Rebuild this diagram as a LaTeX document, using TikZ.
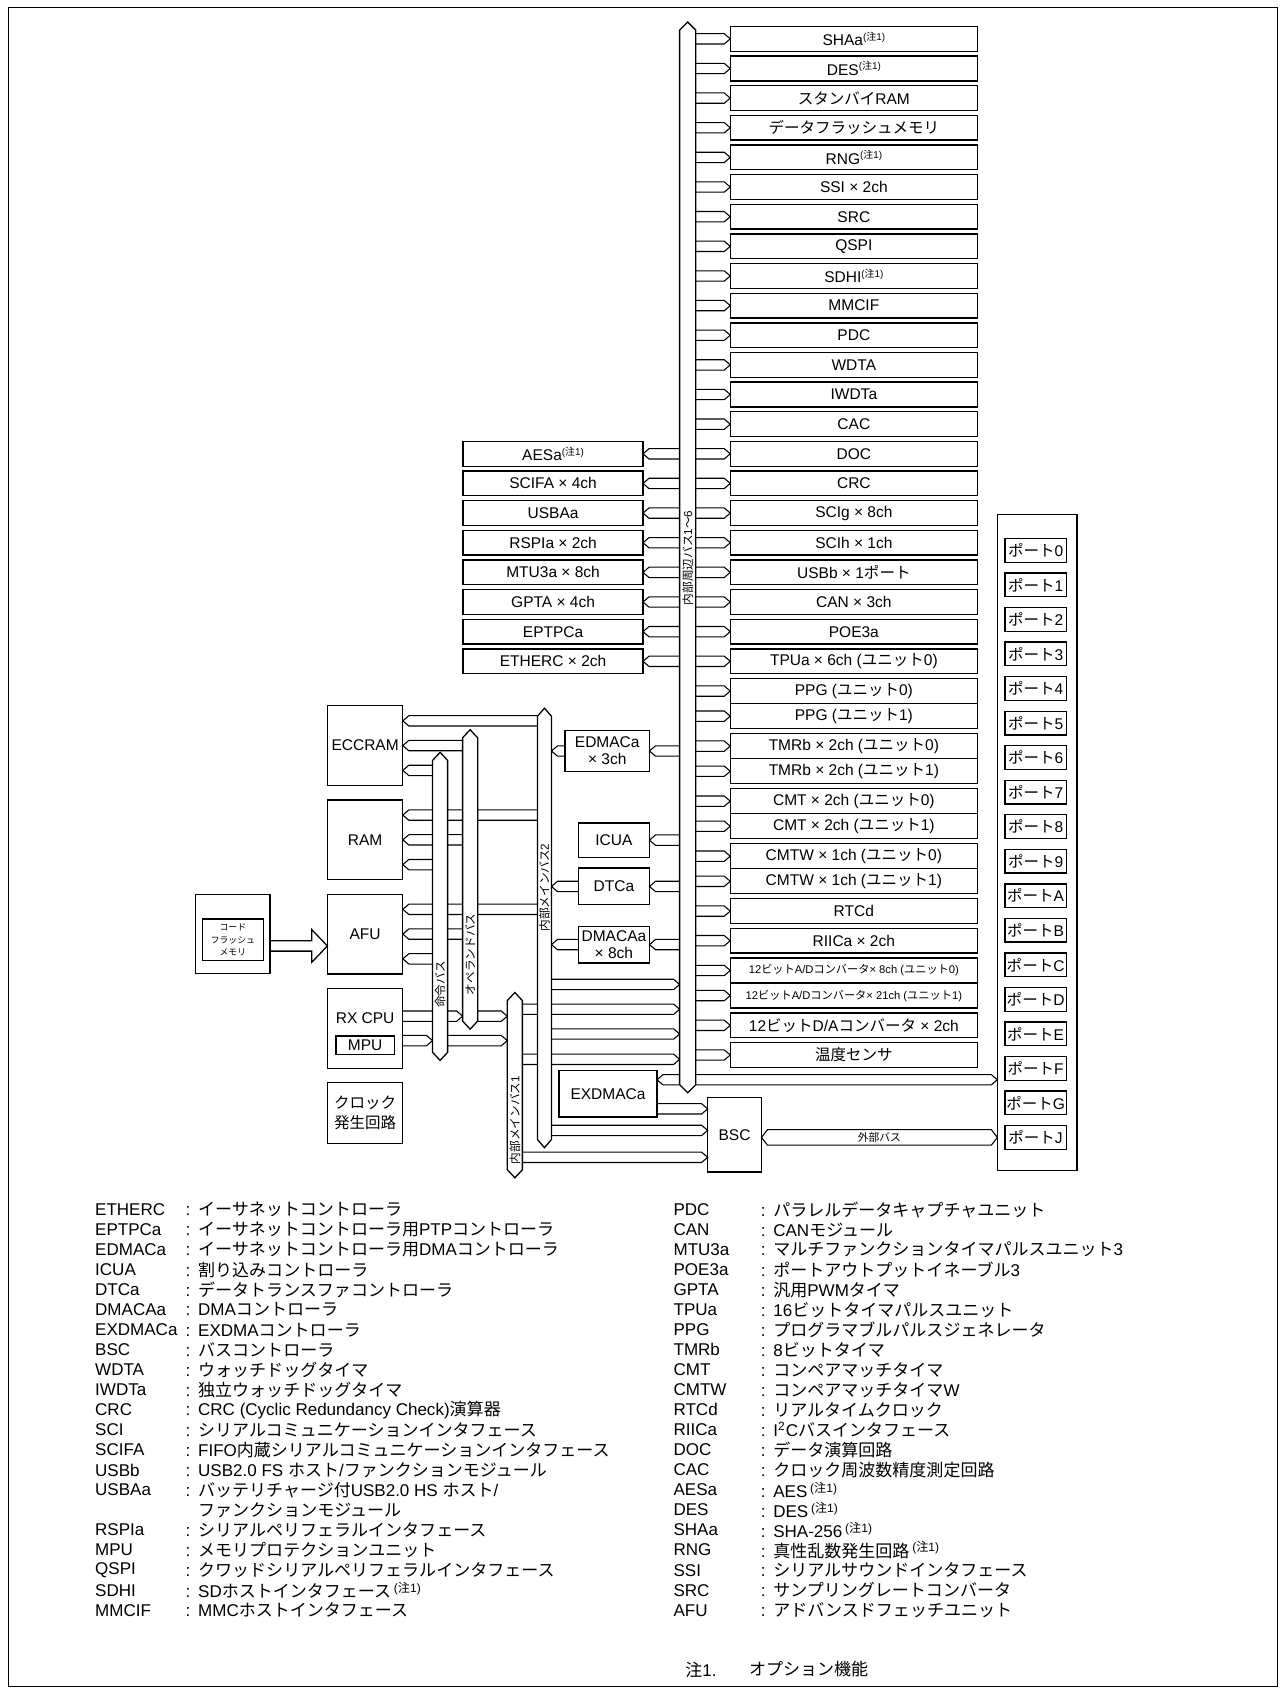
\documentclass[tikz,border=0pt]{standalone}
\usepackage{fontspec}
\setmainfont{Liberation Sans}
\newfontfamily\J{Noto Sans CJK JP}
\usetikzlibrary{positioning,calc}

\newcommand\fs[2]{\fontsize{#1pt}{#2pt}\selectfont}
\newcommand\nt{\raisebox{2.4pt}{\fs{4.6}{5}({\J 注}1)}}
\newcommand\ntl{\raisebox{2.6pt}{\fs{5.6}{6}({\J 注}1)}}
\newcommand\cl{:\hspace{3.6pt}}
\newcommand\ncl{\phantom{:}\hspace{3.6pt}}
\newcommand\cwid{2.4pt}
\newcommand\chead{2.8pt}
\newcommand\btip{3.75pt}
\newcommand\vgap{2.25pt}

% hollow bus connectors: tail at the x of #1, head at #2
\newcommand\conr[2]{\draw[wire] ($(#1 |- #2)+(0,\cwid)$) -- ($(#2)+(-\chead,\cwid)$) -- (#2) -- ($(#2)+(-\chead,-\cwid)$) -- ($(#1 |- #2)+(0,-\cwid)$);}
\newcommand\conl[2]{\draw[wire] ($(#1 |- #2)+(0,\cwid)$) -- ($(#2)+(\chead,\cwid)$) -- (#2) -- ($(#2)+(\chead,-\cwid)$) -- ($(#1 |- #2)+(0,-\cwid)$);}
% bus with pointed ends, drawn over a named frame
\newcommand\busdraw[1]{\draw[busline] (#1.north west) -- ($(#1.north)+(0,\btip)$) -- (#1.north east) -- (#1.south east) -- ($(#1.south)+(0,-\btip)$) -- (#1.south west) -- cycle;}

\begin{document}
\begin{tikzpicture}[x=0.5pt, y=-0.5pt,
  box/.style={draw, line width=0.6pt, fill=white, inner sep=0pt, outer sep=0pt, align=center, font=\fs{7.2}{8}},
  pbox/.style={box, minimum width=114.75pt, minimum height=11.5pt},
  dbox/.style={box, minimum width=114.75pt, minimum height=11.65pt},
  lbox/.style={box, minimum width=83.5pt, minimum height=11.5pt},
  mbox/.style={box, minimum width=35pt, minimum height=37pt},
  sbox/.style={box, minimum width=33pt, minimum height=17pt},
  port/.style={box, minimum width=28.5pt, minimum height=11pt},
  bus/.style={inner sep=0pt, outer sep=0pt},
  busline/.style={line width=0.6pt, fill=white},
  buslbl/.style={rotate=90, inner sep=0pt, font=\fs{5.4}{6}},
  wire/.style={line width=0.5pt},
  leg/.style={anchor=west, inner sep=0pt, font=\fs{7.9}{9}}]

\useasboundingbox (0,0) rectangle (1190,1570);
\draw[line width=0.6pt] (8,7) rectangle (1186,1566);

% bus frames
\node[bus, minimum width=7.5pt, minimum height=489.5pt] (pbus) at (638.5,517.5) {};
\node[bus, minimum width=6.5pt, minimum height=196.5pt] (mb2) at (505.5,861.5) {};
\node[bus, minimum width=7pt, minimum height=78.5pt] (mb1) at (478,1007.5) {};
\node[bus, minimum width=7pt, minimum height=135.5pt] (inb) at (408.6,841.5) {};
\node[bus, minimum width=7pt, minimum height=131.5pt] (opb) at (436.5,816.5) {};

% peripherals on the right of the bus
\foreach \nm/\lbl [count=\i from 0] in {shaa/{SHAa\nt}, des/{DES\nt}, sram/{{\J スタンバイ}RAM},
    dfl/{{\J データフラッシュメモリ}}, rng/{RNG\nt}, ssi/{SSI × 2ch}, src/SRC, qspi/QSPI,
    sdhi/{SDHI\nt}, mmcif/MMCIF, pdc/PDC, wdta/WDTA, iwdta/IWDTa, cac/CAC, doc/DOC, crc/CRC,
    scig/{SCIg × 8ch}, scih/{SCIh × 1ch}, usbb/{USBb × 1{\J ポート}}, can/{CAN × 3ch},
    poe/POE3a, tpua/{TPUa × 6ch ({\J ユニット}0)}}
  {\node[pbox] (\nm) at (792.75,{36.05+27.52*\i}) {\lbl};}
\node[dbox, below=\vgap of tpua] (ppg0) {PPG ({\J ユニット}0)};
\node[dbox, below=0pt of ppg0] (ppg1) {PPG ({\J ユニット}1)};
\node[dbox, below=\vgap of ppg1] (tmr0) {TMRb × 2ch ({\J ユニット}0)};
\node[dbox, below=0pt of tmr0] (tmr1) {TMRb × 2ch ({\J ユニット}1)};
\node[dbox, below=\vgap of tmr1] (cmt0) {CMT × 2ch ({\J ユニット}0)};
\node[dbox, below=0pt of cmt0] (cmt1) {CMT × 2ch ({\J ユニット}1)};
\node[dbox, below=\vgap of cmt1] (cmtw0) {CMTW × 1ch ({\J ユニット}0)};
\node[dbox, below=0pt of cmtw0] (cmtw1) {CMTW × 1ch ({\J ユニット}1)};
\node[pbox, below=\vgap of cmtw1] (rtcd) {RTCd};
\node[pbox, below=\vgap of rtcd] (riic) {RIICa × 2ch};
\node[dbox, below=\vgap of riic, font=\fs{5.2}{6}] (ad0) {12{\J ビット}A/D{\J コンバータ}× 8ch ({\J ユニット}0)};
\node[dbox, below=0pt of ad0, font=\fs{5.2}{6}] (ad1) {12{\J ビット}A/D{\J コンバータ}× 21ch ({\J ユニット}1)};
\node[pbox, below=\vgap of ad1] (da) {12{\J ビット}D/A{\J コンバータ} × 2ch};
\node[pbox, below=\vgap of da] (temp) {{\J 温度センサ}};

\foreach \nm in {shaa,des,sram,dfl,rng,ssi,src,qspi,sdhi,mmcif,pdc,wdta,iwdta,cac,doc,crc,
    scig,scih,usbb,can,poe,tpua,ppg0,ppg1,tmr0,tmr1,cmt0,cmt1,cmtw0,cmtw1,rtcd,riic,ad0,ad1,da,temp}
  {\conr{pbus.east}{\nm.west}}

% peripherals on the left of the bus
\foreach \nm/\row/\lbl in {aesa/doc/{AESa\nt}, scifa/crc/{SCIFA × 4ch}, usbaa/scig/USBAa,
    rspia/scih/{RSPIa × 2ch}, mtu/usbb/{MTU3a × 8ch}, gpta/can/{GPTA × 4ch},
    eptpc/poe/EPTPCa, etherc/tpua/{ETHERC × 2ch}}{
  \node[lbox, left=40.5pt of \row] (\nm) {\lbl};
  \conl{pbus.west}{\nm.east}
}

% ports
\node[box, minimum width=37pt, minimum height=304.5pt] (ports) at (963,782.5) {};
\foreach \pn [count=\i from 0] in {0,1,2,3,4,5,6,7,8,9,A,B,C,D,E,F,G,J}
  {\node[port] (p\pn) at (961.5,{511+32.06*\i}) {{\J ポート}\pn};}

% memories, cpu, clock
\node[mbox] (eccram) at (339,692.25) {ECCRAM};
\node[mbox, below=6.75pt of eccram] (ram) {RAM};
\node[mbox, below=6.75pt of ram] (afu) {AFU};
\node[mbox, below=6.75pt of afu] (cpu) {};
\node[inner sep=0pt, font=\fs{7.2}{8}] (cpulbl) at ($(cpu.north)+(0,-13.7pt)$) {RX CPU};
\node[box, minimum width=27pt, minimum height=8.8pt] (mpu) at ($(cpu.south)+(0,10.6pt)$) {MPU};
\node[box, minimum width=35pt, minimum height=28.2pt, below=6.75pt of cpu, font=\fs{7.2}{9.5}] (clk) {{\J クロック}\\{\J 発生回路}};

% code flash
\node[box, minimum width=34.5pt, minimum height=36.75pt, left=26.65pt of afu] (cf) {};
\node[box, minimum width=28.35pt, minimum height=19.35pt, font=\fs{4.1}{6}] (cfm) at ($(cf.center)+(0,-2.65pt)$) {{\J コード}\\{\J フラッシュ}\\{\J メモリ}};
\coordinate (cfa) at ($(afu.west)+(0,-5.5pt)$);
\draw[line width=0.6pt] ($(cf.east |- cfa)+(0,2.4pt)$) -- ($(cfa)+(-7.3pt,2.4pt)$) -- ($(cfa)+(-7.3pt,7.6pt)$) -- (cfa)
  -- ($(cfa)+(-7.3pt,-7.6pt)$) -- ($(cfa)+(-7.3pt,-2.4pt)$) -- ($(cf.east |- cfa)+(0,-2.4pt)$);

% masters between the buses
\node[box, minimum width=39.2pt, minimum height=19.25pt] (edmaca) at (563.8,697.25) {EDMACa\\× 3ch};
\node[sbox, minimum height=16pt] (icua) at (570,780) {ICUA};
\node[sbox] (dtca) at (570,823) {DTCa};
\node[sbox] (dmacaa) at (570,877) {DMACAa\\× 8ch};
\node[box, minimum width=45.5pt, minimum height=21.5pt] (exdmaca) at (564.5,1015.5) {EXDMACa};
\node[box, minimum width=25pt, minimum height=34.5pt] (bsc) at (682,1053.5) {BSC};

% memory connectors
\foreach \m in {eccram,ram,afu}{
  \coordinate (\m-a) at ($(\m.north east)+(0,14)$);
  \coordinate (\m-b) at ($(\m.north east)+(0,37)$);
  \coordinate (\m-c) at ($(\m.north east)+(0,60)$);
  \conl{mb2.west}{\m-a}
  \conl{opb.west}{\m-b}
  \conl{inb.west}{\m-c}
}

% cpu to buses
\coordinate (cpu-a) at ($(cpu.north east)+(0,25.7)$);
\coordinate (cpu-b) at ($(cpu.north east)+(0,48.4)$);
\coordinate (opb-a) at (opb.west |- cpu-a);
\coordinate (inb-b) at (inb.west |- cpu-b);
\coordinate (mb1-a) at (mb1.west |- cpu-a);
\coordinate (mb1-b) at (mb1.west |- cpu-b);
\conr{cpu.east}{opb-a}
\conr{opb.east}{mb1-a}
\conr{cpu.east}{inb-b}
\conr{inb.east}{mb1-b}

% main buses to peripheral bus
\foreach \yy/\bb [count=\k] in {914/mb2, 937/mb1, 960/mb2, 983.5/mb1}{
  \coordinate (mp\k) at (631,\yy);
  \conr{\bb.east}{mp\k}
}

% dma, interrupt
\conl{pbus.west}{edmaca.east}
\coordinate (mb2-e) at (mb2.east |- edmaca.west);
\conl{edmaca.west}{mb2-e}
\conl{pbus.west}{icua.east}
\conl{pbus.west}{dtca.east}
\coordinate (mb2-d) at (mb2.east |- dtca.west);
\conl{dtca.west}{mb2-d}
\conl{pbus.west}{dmacaa.east}
\coordinate (mb2-m) at (mb2.east |- dmacaa.west);
\conl{dmacaa.west}{mb2-m}

% exdmac, port F
\coordinate (exd-in) at ($(exdmaca.north east)+(0,8.5)$);
\coordinate (pf-in) at (ports.west |- exd-in);
\conl{pbus.west}{exd-in}
\conr{pbus.east}{pf-in}

% bus controller
\coordinate (bsc-a) at ($(bsc.north west)+(0,10.5)$);
\coordinate (bsc-b) at ($(bsc.north west)+(0,30.5)$);
\coordinate (bsc-c) at ($(bsc.north west)+(0,55.5)$);
\conr{exdmaca.east}{bsc-a}
\conr{mb2.east}{bsc-b}
\conr{mb1.east}{bsc-c}

% external bus
\coordinate (xb-l) at (bsc.east |- pJ);
\coordinate (xb-r) at (ports.west |- pJ);
\draw[wire] (xb-l) -- ($(xb-l)+(\chead,3.6pt)$) -- ($(xb-r)+(-\chead,3.6pt)$) -- (xb-r)
  -- ($(xb-r)+(-\chead,-3.6pt)$) -- ($(xb-l)+(\chead,-3.6pt)$) -- cycle;
\node[inner sep=0pt, font=\fs{5}{6}] (xbus) at ($(xb-l)!0.5!(xb-r)$) {{\J 外部バス}};

% buses on top
\foreach \b in {pbus,mb2,mb1,inb,opb}
  {\busdraw{\b}}
\node[buslbl] (pbus-l) at (638.5,518) {{\J 内部周辺バス}1{\J ～}6};
\node[buslbl] (mb2-l) at (505.5,824) {{\J 内部メインバス}2};
\node[buslbl] (mb1-l) at (478,1040) {{\J 内部メインバス}1};
\node[buslbl] (inb-l) at (408.6,914) {{\J 命令バス}};
\node[buslbl] (opb-l) at (436.5,886) {{\J オペランドバス}};

% legend
\foreach \ab/\ds [count=\i from 0] in {ETHERC/{\cl{\J イーサネットコントローラ}},
    EPTPCa/{\cl{\J イーサネットコントローラ用}PTP{\J コントローラ}},
    EDMACa/{\cl{\J イーサネットコントローラ用}DMA{\J コントローラ}},
    ICUA/{\cl{\J 割り込みコントローラ}},
    DTCa/{\cl{\J データトランスファコントローラ}},
    DMACAa/{\cl DMA{\J コントローラ}},
    EXDMACa/{\cl EXDMA{\J コントローラ}},
    BSC/{\cl{\J バスコントローラ}},
    WDTA/{\cl{\J ウォッチドッグタイマ}},
    IWDTa/{\cl{\J 独立ウォッチドッグタイマ}},
    CRC/{\cl CRC (Cyclic Redundancy Check){\J 演算器}},
    SCI/{\cl{\J シリアルコミュニケーションインタフェース}},
    SCIFA/{\cl FIFO{\J 内蔵シリアルコミュニケーションインタフェース}},
    USBb/{\cl USB2.0 FS {\J ホスト}/{\J ファンクションモジュール}},
    USBAa/{\cl{\J バッテリチャージ付}USB2.0 HS {\J ホスト}/},
    {}/{\ncl{\J ファンクションモジュール}},
    RSPIa/{\cl{\J シリアルペリフェラルインタフェース}},
    MPU/{\cl{\J メモリプロテクションユニット}},
    QSPI/{\cl{\J クワッドシリアルペリフェラルインタフェース}},
    SDHI/{\cl SD{\J ホストインタフェース}\,\ntl},
    MMCIF/{\cl MMC{\J ホストインタフェース}}}{
  \node[leg] (la\i) at (88,{1123+18.6*\i}) {\ab};
  \node[leg] (lb\i) at (172,{1123+18.6*\i}) {\ds};
}
\foreach \ab/\ds [count=\i from 0] in {PDC/{\cl{\J パラレルデータキャプチャユニット}},
    CAN/{\cl CAN{\J モジュール}},
    MTU3a/{\cl{\J マルチファンクションタイマパルスユニット}3},
    POE3a/{\cl{\J ポートアウトプットイネーブル}3},
    GPTA/{\cl{\J 汎用}PWM{\J タイマ}},
    TPUa/{\cl 16{\J ビットタイマパルスユニット}},
    PPG/{\cl{\J プログラマブルパルスジェネレータ}},
    TMRb/{\cl 8{\J ビットタイマ}},
    CMT/{\cl{\J コンペアマッチタイマ}},
    CMTW/{\cl{\J コンペアマッチタイマ}W},
    RTCd/{\cl{\J リアルタイムクロック}},
    RIICa/{\cl I\textsuperscript{2}C{\J バスインタフェース}},
    DOC/{\cl{\J データ演算回路}},
    CAC/{\cl{\J クロック周波数精度測定回路}},
    AESa/{\cl AES\,\ntl},
    DES/{\cl DES\,\ntl},
    SHAa/{\cl SHA-256\,\ntl},
    RNG/{\cl{\J 真性乱数発生回路}\,\ntl},
    SSI/{\cl{\J シリアルサウンドインタフェース}},
    SRC/{\cl{\J サンプリングレートコンバータ}},
    AFU/{\cl{\J アドバンスドフェッチユニット}}}{
  \node[leg] (ra\i) at (625,{1123+18.6*\i}) {\ab};
  \node[leg] (rb\i) at (706,{1123+18.6*\i}) {\ds};
}
\node[leg] (fn1) at (636,1550) {{\J 注}1.};
\node[leg] (fn2) at (695,1550) {{\J オプション機能}};

\end{tikzpicture}
\end{document}
